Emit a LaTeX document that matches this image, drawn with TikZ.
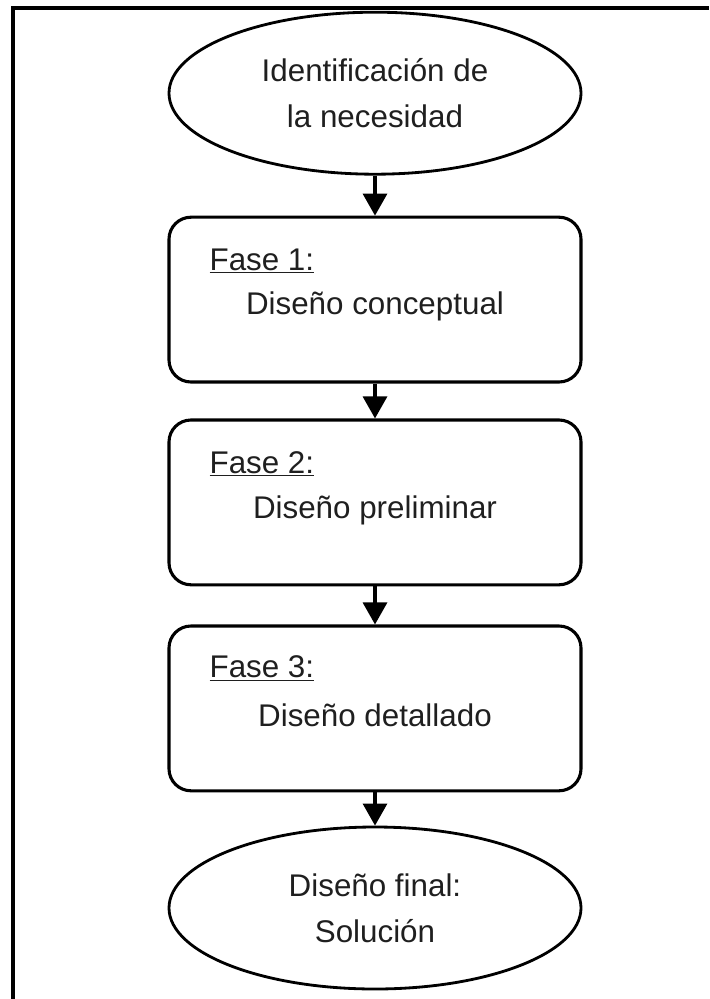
\documentclass[tikz,border=0pt]{standalone}
\usepackage{fontspec}
\setmainfont{Liberation Sans}
\usetikzlibrary{shapes.geometric, arrows.meta, positioning}

\begin{document}
\begin{tikzpicture}[
        every node/.style={font=\fontsize{22.3}{33}\selectfont, text=black!88},
        endpoint/.style={ellipse, draw, line width=2pt, minimum width=10.3cm, minimum height=4.05cm, inner sep=0pt, align=center},
        phase/.style={rectangle, draw, line width=2.2pt, rounded corners=0.55cm, minimum width=10.3cm, minimum height=4.12cm},
        flow/.style={line width=2.2pt, -{Triangle[width=0.6cm, length=0.55cm]}}
    ]
            \useasboundingbox (0, 0) rectangle (17.725, -24.975);
            %\draw[lightgray] (0, 0) grid (17, -24);
            \draw[line width=2.2pt] (0.325, -24.975) -- (0.325, -0.2) -- (17.725, -0.2);

            \node[endpoint] (need) at (9.375, -2.33) {Identificación de\\la necesidad};
            \node[phase] (conceptual) at (9.375, -7.49) {};
            \node[phase] (preliminary) at (9.375, -12.56) {};
            \node[phase] (detailed) at (9.375, -17.71) {};
            \node[endpoint] (solution) at (9.375, -22.7) {Diseño final:\\Solución};

            \node[anchor=west] (f1) at ([xshift=0.93cm, yshift=-1.13cm] conceptual.north west) {\underline{Fase 1:}};
            \node (d1) at ([yshift=-2.28cm] conceptual.north) {Diseño conceptual};
            \node[anchor=west] (f2) at ([xshift=0.93cm, yshift=-1.13cm] preliminary.north west) {\underline{Fase 2:}};
            \node (d2) at ([yshift=-2.3cm] preliminary.north) {Diseño preliminar};
            \node[anchor=west] (f3) at ([xshift=0.93cm, yshift=-1.1cm] detailed.north west) {\underline{Fase 3:}};
            \node (d3) at ([yshift=-2.28cm] detailed.north) {Diseño detallado};

            \draw[flow] (need) -- (conceptual);
            \draw[flow] (conceptual) -- (preliminary);
            \draw[flow] (preliminary) -- (detailed);
            \draw[flow] (detailed) -- (solution);
        \end{tikzpicture}
\end{document}
